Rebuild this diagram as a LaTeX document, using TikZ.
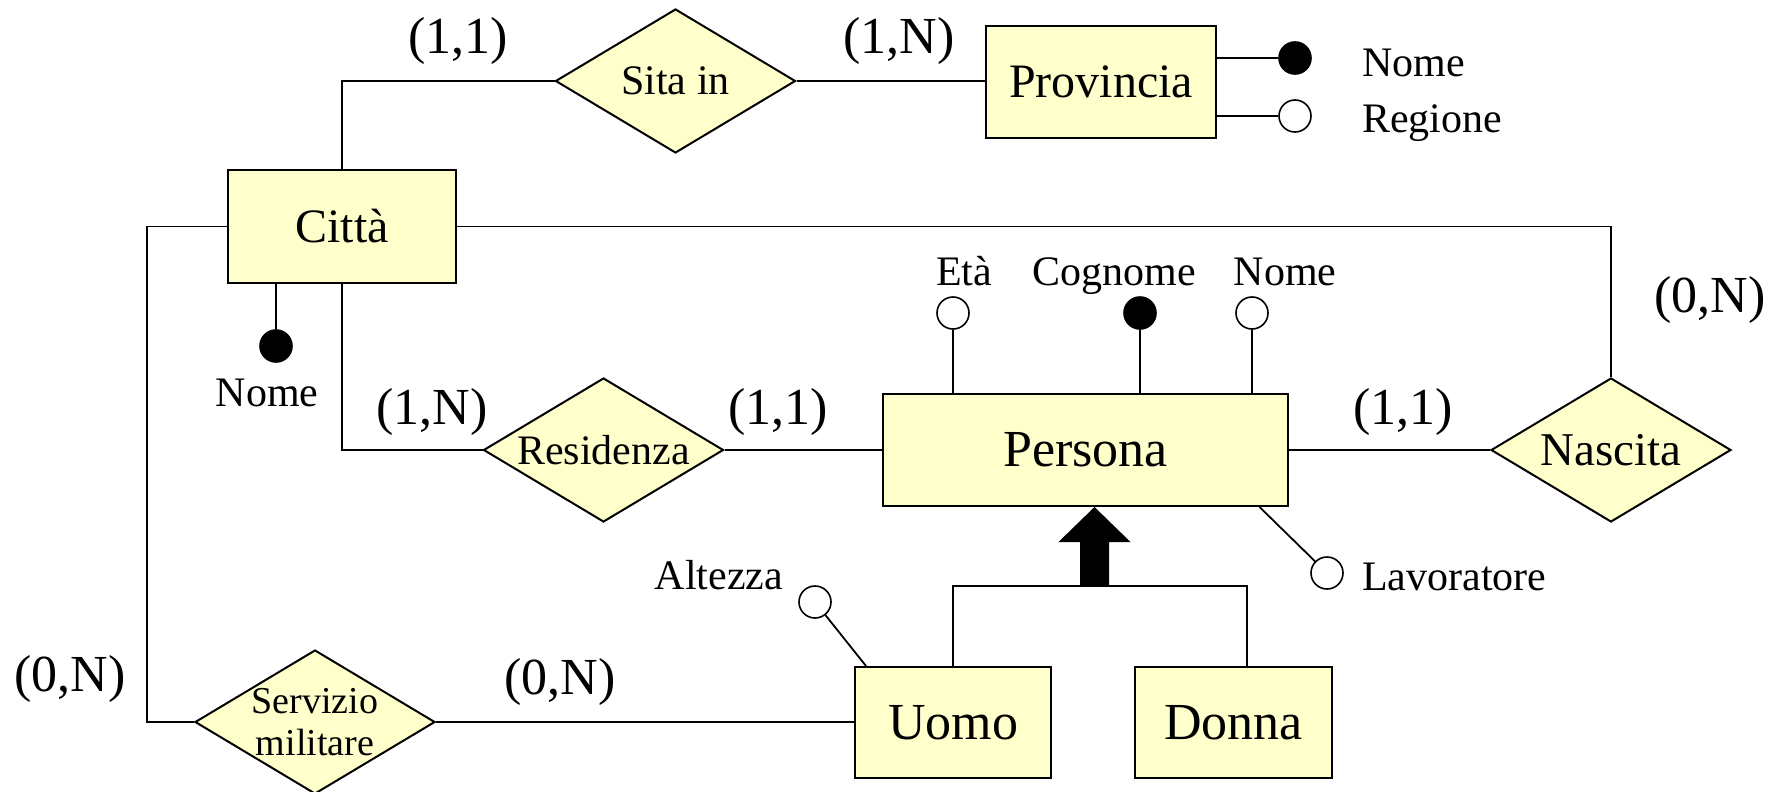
\documentclass[tikz,border=0pt]{standalone}
\usepackage{fontspec}
\setmainfont{Liberation Serif}
\usetikzlibrary{shapes.geometric}
\definecolor{erfill}{HTML}{FFFFCC}
\newcommand{\erfs}[2]{\fontsize{#1}{#2}\selectfont}
\tikzset{
  entity/.style={draw, line width=2pt, fill=erfill, rectangle, inner sep=0pt},
  rel/.style={draw, line width=2pt, fill=erfill, diamond, inner sep=0pt,
              minimum width=240pt, minimum height=144pt},
  link/.style={line width=1.8pt},
  attr/.style={circle, draw, line width=1.6pt, fill=white, minimum size=32pt, inner sep=0pt},
  keyattr/.style={attr, fill=black},
  card/.style={font=\erfs{52}{60}, inner sep=0pt},
  attrlbl/.style={font=\erfs{42}{48}, inner sep=0pt},
}
\begin{document}
\begin{tikzpicture}[x=1pt, y=-1pt]
\useasboundingbox (0,0) rectangle (1780,792);

% entities
\node[entity, minimum width=228pt, minimum height=113pt, font=\erfs{48}{56}] (citta) at (342,226.5) {Città};
\node[entity, minimum width=230pt, minimum height=112pt, font=\erfs{48}{56}] (prov) at (1101,82) {Provincia};
\node[entity, minimum width=405pt, minimum height=112pt, font=\erfs{52}{60}] (pers) at (1085.5,450) {Persona};
\node[entity, minimum width=196pt, minimum height=111pt, font=\erfs{52}{60}] (uomo) at (953,722.5) {Uomo};
\node[entity, minimum width=197pt, minimum height=111pt, font=\erfs{52}{60}] (donna) at (1233.5,722.5) {Donna};

% relationships
\node[rel, label={[font=\erfs{42}{48}]center:Sita in}] (sita) at (675.5,81) {};
\node[rel, label={[font=\erfs{42}{48}]center:Residenza}] (res) at (603.5,450) {};
\node[rel, label={[font=\erfs{47}{54}]center:Nascita}] (nasc) at (1611,450) {};
\node[rel, label={[font=\erfs{38}{42}, align=center]center:{Servizio\\militare}}] (serv) at (315,722) {};

% relationship links
\draw[link] (citta.north) |- (sita.west);
\draw[link] (sita.east) -- (sita.east -| prov.west);
\draw[link] (citta.east) -| (nasc.north);
\draw[link] (citta.west) -- ++(-80,0) |- (serv.west);
\draw[link] (citta.south) |- (res.west);
\draw[link] (res.east) -- (res.east -| pers.west);
\draw[link] (pers.east) -- (pers.east -| nasc.west);
\draw[link] (serv.east) -- (serv.east -| uomo.west);

% attributes of Provincia
\node[keyattr] (pnome) at (1295,58) {};
\node[attr] (preg) at (1295,116) {};
\draw[link] (pnome.west) -- (pnome.west -| prov.east);
\draw[link] (preg.west) -- (preg.west -| prov.east);
\node[attrlbl, anchor=base west] (lpnome) at (1362,77) {Nome};
\node[attrlbl, anchor=base west] (lpreg) at (1362,132) {Regione};

% attribute of Città
\node[keyattr] (cnome) at (276,346) {};
\draw[link] (cnome.north) -- (cnome.north |- citta.south);
\node[attrlbl] (lcnome) at (267,393) {Nome};

% attributes of Persona
\node[attr] (eta) at (953,313) {};
\node[keyattr] (cogn) at (1140,313) {};
\node[attr] (nome) at (1252,313) {};
\draw[link] (eta.south) -- (eta.south |- pers.north);
\draw[link] (cogn.south) -- (cogn.south |- pers.north);
\draw[link] (nome.south) -- (nome.south |- pers.north);
\node[attrlbl, anchor=base] (leta) at (964,285) {Età};
\node[attrlbl, anchor=base] (lcogn) at (1114,285) {Cognome};
\node[attrlbl, anchor=base] (lnome) at (1285,285) {Nome};

\node[attr] (lav) at (1327,573) {};
\draw[link] (lav) -- ([xshift=-29.5pt]pers.south east);
\node[attrlbl, anchor=base west] (llav) at (1362,590) {Lavoratore};

% attribute of Uomo
\node[attr] (alt) at (815,602) {};
\draw[link] (alt) -- ([xshift=12pt]uomo.north west);
\node[attrlbl, anchor=base] (lalt) at (719,589) {Altezza};

% generalization
\coordinate (genbar) at (1094.5,586);
\draw[link] (uomo.north) |- (genbar) -| ([xshift=13.5pt]donna.north);
\fill ([xshift=-14.5pt]genbar) -- ([xshift=-14.5pt,yshift=44pt]genbar)
  -- ([xshift=-36pt,yshift=44pt]genbar) -- (genbar |- pers.south)
  -- ([xshift=36pt,yshift=44pt]genbar) -- ([xshift=14.5pt,yshift=44pt]genbar)
  -- ([xshift=14.5pt]genbar) -- cycle;

% cardinalities
\node[card] (c1) at (458,41) {(1,1)};
\node[card] (c2) at (899,41) {(1,N)};
\node[card] (c3) at (1710,300) {(0,N)};
\node[card] (c4) at (432,412) {(1,N)};
\node[card] (c5) at (778,412) {(1,1)};
\node[card] (c6) at (1403,412) {(1,1)};
\node[card] (c7) at (70,679) {(0,N)};
\node[card] (c8) at (560,682) {(0,N)};
\end{tikzpicture}
\end{document}
